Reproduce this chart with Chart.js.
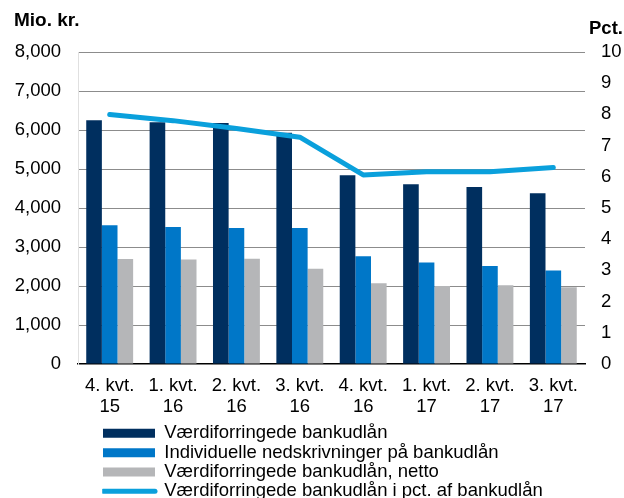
<!DOCTYPE html>
<html>
<head>
<meta charset="utf-8">
<script src="https://cdn.jsdelivr.net/npm/chart.js@4/dist/chart.umd.min.js"></script>
<style>
html,body{margin:0;padding:0;background:#fff;}
#wrap{position:relative;width:624px;height:498px;}
</style>
</head>
<body>
<div id="wrap"><canvas id="c" width="624" height="498"></canvas></div>
<script>
const categories = [
  ['4. kvt.', '15'], ['1. kvt.', '16'], ['2. kvt.', '16'], ['3. kvt.', '16'],
  ['4. kvt.', '16'], ['1. kvt.', '17'], ['2. kvt.', '17'], ['3. kvt.', '17']
];
const impairedLoans = [6250, 6200, 6180, 5930, 4840, 4610, 4540, 4380];
const individualWriteDowns = [3560, 3510, 3490, 3490, 2760, 2600, 2510, 2400];
const impairedLoansNet = [2690, 2680, 2700, 2440, 2070, 2000, 2020, 1970];
const impairedPct = [8.0, 7.8, 7.55, 7.27, 6.06, 6.16, 6.16, 6.3];

const seriesNames = [
  'Værdiforringede bankudlån',
  'Individuelle nedskrivninger på bankudlån',
  'Værdiforringede bankudlån, netto',
  'Værdiforringede bankudlån i pct. af bankudlån'
];
const leftTitle = 'Mio. kr.';
const rightTitle = 'Pct.';

const FONT = 'Liberation Sans, Arial, sans-serif';

const titlesPlugin = {
  id: 'axisTitles',
  afterLayout(chart) {
    // place the legend as a left-aligned column
    chart.legend.left = 102.2;
  },
  afterDraw(chart) {
    const ctx = chart.ctx;
    ctx.save();
    ctx.fillStyle = '#000';
    ctx.textBaseline = 'middle';
    ctx.textAlign = 'left';
    ctx.font = 'bold 19px ' + FONT;
    ctx.fillText(leftTitle, 14, 21);
    ctx.font = 'bold 18.5px ' + FONT;
    ctx.fillText(rightTitle, 589, 29);
    ctx.restore();
  }
};

new Chart(document.getElementById('c'), {
  type: 'bar',
  data: {
    labels: categories,
    datasets: [
      { label: seriesNames[0], data: impairedLoans, backgroundColor: '#002f5f', order: 1, yAxisID: 'y' },
      { label: seriesNames[1], data: individualWriteDowns, backgroundColor: '#0077c8', order: 1, yAxisID: 'y' },
      { label: seriesNames[2], data: impairedLoansNet, backgroundColor: '#b5b6b8', order: 1, yAxisID: 'y' },
      { label: seriesNames[3], data: impairedPct, type: 'line', borderColor: '#0aa0dc', backgroundColor: '#0aa0dc',
        borderWidth: 5, pointRadius: 0, tension: 0, borderCapStyle: 'round', borderJoinStyle: 'round',
        order: 0, yAxisID: 'y2' }
    ]
  },
  options: {
    responsive: false,
    animation: false,
    devicePixelRatio: 1,
    layout: { padding: { top: 52, left: 0, right: 0, bottom: -12.5 } },
    datasets: { bar: { categoryPercentage: 0.74, barPercentage: 1.0 } },
    plugins: {
      tooltip: { enabled: false },
      title: { display: false },
      legend: {
        display: true,
        position: 'bottom',
        align: 'start',
        labels: {
          font: { family: FONT, size: 18.5 },
          color: '#000',
          padding: 0.8,
          usePointStyle: true,
          pointStyleWidth: 52,
          boxHeight: 9,
          generateLabels(chart) {
            return chart.data.datasets.map((ds, i) => {
              const isLine = ds.type === 'line';
              return {
                text: ds.label,
                datasetIndex: i,
                fillStyle: isLine ? 'rgba(0,0,0,0)' : ds.backgroundColor,
                strokeStyle: isLine ? ds.borderColor : ds.backgroundColor,
                lineWidth: isLine ? 5 : 0,
                lineCap: 'round',
                pointStyle: isLine ? 'line' : 'rect',
                hidden: false,
                fontColor: '#000'
              };
            });
          }
        }
      }
    },
    scales: {
      x: {
        grid: { display: false, drawTicks: false },
        border: { display: true, color: '#000', width: 1.5 },
        ticks: { font: { family: FONT, size: 18.5, lineHeight: 1.12 }, color: '#000', padding: 12, maxRotation: 0, autoSkip: false },
        afterFit(scale) { scale.height = 59.3; }
      },
      y: {
        position: 'left',
        min: 0, max: 8000,
        ticks: { stepSize: 1000, font: { family: FONT, size: 18.5 }, color: '#000', padding: 17,
          callback: v => v.toLocaleString('en-US') },
        grid: { color: ctx => ctx.tick && ctx.tick.value === 0 ? 'rgba(0,0,0,0)' : '#8c8c8c', lineWidth: 1, drawTicks: false },
        border: { display: true, color: '#e0e0e0', width: 1 },
        afterFit(scale) { scale.width = 78; }
      },
      y2: {
        position: 'right',
        min: 0, max: 10,
        ticks: { stepSize: 1, font: { family: FONT, size: 18.5 }, color: '#000', padding: 16 },
        grid: { drawOnChartArea: false, drawTicks: false },
        border: { display: false },
        afterFit(scale) { scale.width = 39; }
      }
    }
  },
  plugins: [titlesPlugin]
});
</script>
</body>
</html>
